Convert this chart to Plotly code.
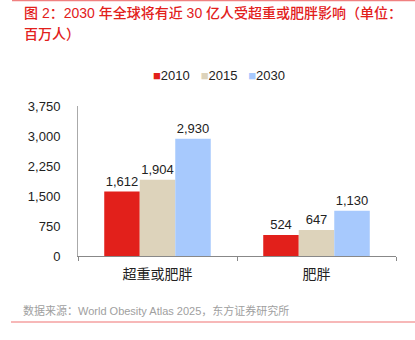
import plotly.graph_objects as go

categories = ["超重或肥胖", "肥胖"]
years = ["2010", "2015", "2030"]
v2010 = [1612, 524]
v2015 = [1904, 647]
v2030 = [2930, 1130]
colors = ["#E2201B", "#DDD3BB", "#A7C9FD"]
yticks = [0, 750, 1500, 2250, 3000, 3750]

FONT = "Liberation Sans, Arial, Noto Sans CJK SC, sans-serif"
CJK = "Noto Sans CJK SC, sans-serif"

fig = go.Figure()
for name, vals, c in zip(years, [v2010, v2015, v2030], colors):
    fig.add_trace(go.Bar(
        name=name, x=categories, y=vals, marker=dict(color=c, line=dict(width=0)),
        text=[f"{v:,}" for v in vals], textposition="outside",
        textfont=dict(size=13, color="#222", family=FONT), cliponaxis=False,
    ))

L, R, T, B = 78, 19, 106, 84
pw, ph = 415 - L - R, 340 - T - B

def px(x):
    return (x - L) / pw

def py(y):
    return 1 - (y - T) / ph

fig.update_layout(
    width=415, height=340,
    margin=dict(l=L, r=R, t=T, b=B),
    paper_bgcolor="white", plot_bgcolor="white",
    barmode="group", bargap=0.33, bargroupgap=0,
    font=dict(family=FONT, size=13, color="#222"),
    showlegend=False,
)
fig.update_yaxes(range=[0, 3750], tickvals=yticks, ticktext=[f"{v:,}" for v in yticks],
                 showgrid=False, showline=True, linecolor="#AAAAAA", linewidth=1,
                 ticks="", ticklabelstandoff=14,
                 tickfont=dict(size=13, color="#222"), zeroline=False)
fig.update_xaxes(showline=True, linecolor="#888888", linewidth=1,
                 ticks="outside", tickson="boundaries", ticklen=4, tickcolor="#888888",
                 ticklabelstandoff=5,
                 tickfont=dict(size=14, color="#222", family=CJK))

# manual legend built from the series names and colours
legend_parts = [f"<span style='color:{c}'>■</span>{n}" for n, c in zip(years, colors)]
fig.add_annotation(text="&nbsp;&nbsp;&nbsp;".join(legend_parts),
                   x=px(219), y=py(75), xref="paper", yref="paper", showarrow=False,
                   xanchor="center", yanchor="middle",
                   font=dict(size=13, color="#222", family=FONT))

fig.add_annotation(text="图 2：2030 年全球将有近 30 亿人受超重或肥胖影响（单位：",
                   x=px(22), y=py(13), xref="paper", yref="paper", showarrow=False,
                   xanchor="left", yanchor="middle",
                   font=dict(size=14, color="#E2201B", family=FONT, weight=500))
fig.add_annotation(text="百万人）",
                   x=px(22), y=py(34), xref="paper", yref="paper", showarrow=False,
                   xanchor="left", yanchor="middle",
                   font=dict(size=14, color="#E2201B", family=FONT, weight=500))
fig.add_annotation(text="数据来源：World Obesity Atlas 2025，东方证券研究所",
                   x=px(21), y=py(310), xref="paper", yref="paper", showarrow=False,
                   xanchor="left", yanchor="middle",
                   font=dict(size=11, color="#A0A0A0", family=FONT))

fig.add_shape(type="line", xref="paper", yref="paper",
              x0=px(12), x1=px(415), y0=py(0.5), y1=py(0.5),
              line=dict(color="#F08080", width=1.5))
fig.add_shape(type="line", xref="paper", yref="paper",
              x0=px(11), x1=px(415), y0=py(322), y1=py(322),
              line=dict(color="#F4A0A0", width=1.5))

fig.write_html("out.html")
